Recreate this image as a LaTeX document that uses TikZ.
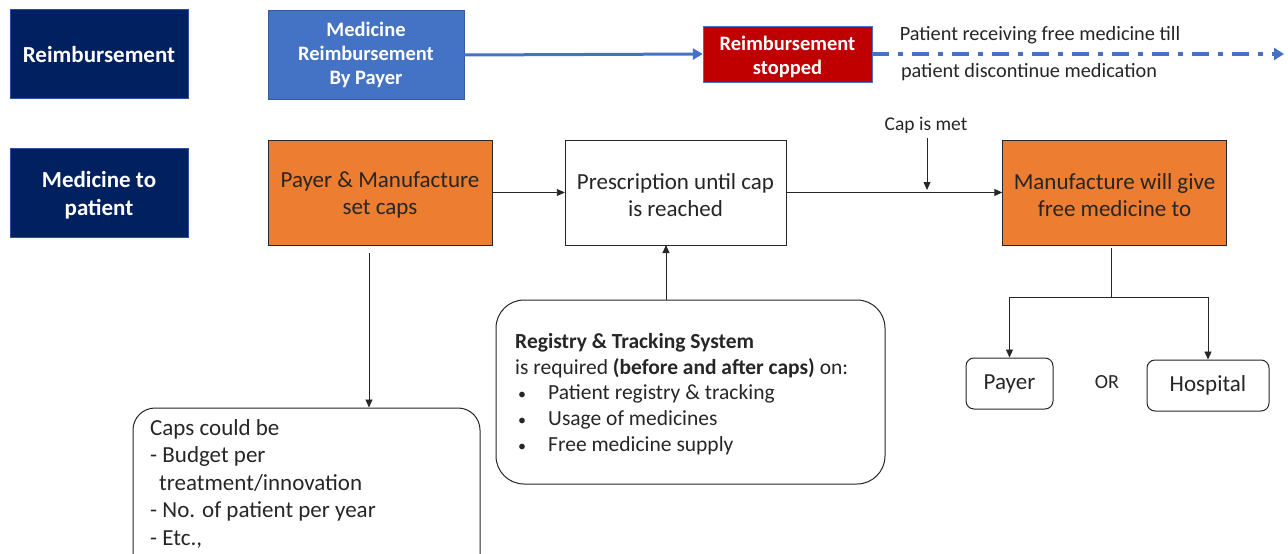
\documentclass[tikz,border=0pt]{standalone}
\usepackage{fontspec}
\setmainfont{Carlito}
\usetikzlibrary{arrows.meta}
\definecolor{navyc}{HTML}{002060}
\definecolor{bluec}{HTML}{4472C4}
\definecolor{redc}{HTML}{C00000}
\definecolor{orangec}{HTML}{ED7D31}
\definecolor{linec}{HTML}{262626}
\definecolor{textc}{HTML}{262626}
\newcommand{\smallbullet}{\makebox[33pt][l]{\hspace*{3pt}{\fontsize{16}{16}\selectfont •}}}
\begin{document}
\begin{tikzpicture}[x=1pt,y=-1pt,
  rect/.style={rectangle, inner sep=0pt, align=center},
  navybox/.style={rect, fill=navyc, draw=bluec!60!navyc, minimum width=178pt, minimum height=89pt},
  navytext/.style={rect, text=white, font=\bfseries\fontsize{23}{28}\selectfont},
  bluebox/.style={rect, fill=bluec, draw=bluec!80!black, text=white,
    font=\bfseries\fontsize{20.5}{24}\selectfont, minimum width=196pt, minimum height=89pt},
  redbox/.style={rect, fill=redc, draw=bluec, minimum width=169pt, minimum height=56pt},
  redtext/.style={rect, text=white, font=\bfseries\fontsize{20.5}{24}\selectfont},
  orangebox/.style={rect, fill=orangec, draw=linec, minimum width=224pt, minimum height=105pt},
  whitebox/.style={rect, fill=white, draw=linec, minimum width=221pt, minimum height=105pt},
  boxtext/.style={rect, text=textc, font=\fontsize{23}{27}\selectfont},
  roundbox/.style={rect, draw=linec, line width=1pt, rounded corners=#1},
  plain/.style={inner sep=0pt, text=textc},
  conn/.style={draw=linec, line width=0.9pt, -{Triangle[length=8pt,width=7pt]}},
  bluearrow/.style={draw=bluec, line width=3pt, -{Triangle[length=10pt,width=11pt]}},
]
\useasboundingbox (0,0) rectangle (1288,554);
\clip (0,0) rectangle (1288,554);

% top row: reimbursement
\node[navybox] (reimb) at (99,53.5) {};
\node[navytext] (reimbT) at (99,55) {Reimbursement};
\node[bluebox] (medreimb) at (366,55) {Medicine\\Reimbursement\\By Payer};
\node[redbox] (stopped) at (787.5,54) {};
\node[redtext] (stoppedT) at (787.5,56.5) {Reimbursement\\stopped};
\coordinate (freeend) at (1284,54);
\node[plain, font=\fontsize{20.3}{24}\selectfont] (till) at (1040,35.5) {Patient receiving free medicine till};
\node[plain, font=\fontsize{20.3}{24}\selectfont] (disc) at (1029,72.5) {patient discontinue medication};

\draw[bluearrow] (medreimb.east) -- (stopped.west);
\draw[draw=bluec, line width=4pt, dash pattern=on 17pt off 9pt on 5pt off 9pt,
  -{Triangle[length=10pt,width=12pt]}] (stopped.east) -- (freeend);

% second row: medicine to patient
\node[navybox] (medpat) at (99,193) {};
\node[navytext] (medpatT) at (99,195.5) {Medicine to\\patient};
\node[orangebox] (setcaps) at (380,192.5) {};
\node[boxtext] (setcapsT) at (380,195) {Payer \& Manufacture\\set caps};
\node[whitebox] (presc) at (675.5,192.5) {};
\node[boxtext] (prescT) at (675.5,195) {Prescription until cap\\is reached};
\node[orangebox] (manuf) at (1114.5,192.5) {};
\node[boxtext] (manufT) at (1114.5,195) {Manufacture will give\\free medicine to};

\draw[conn] (setcaps.east) -- (presc.west);
\draw[conn] (presc.east) -- (manuf.west);

\node[plain, font=\fontsize{19.5}{22}\selectfont] (capmet) at (926,125.5) {Cap is met};
\coordinate (capmettop) at (927,138);
\draw[conn] (capmettop) -- (927,190);

% caps list
\node[roundbox=22pt, minimum width=347pt, minimum height=180pt] (capsbox) at (306.5,498) {};
\node[plain, align=left, anchor=north west, font=\fontsize{23}{27.5}\selectfont] (capstext) at (150,419)
  {Caps could be\\- Budget per\\\hspace*{9pt}treatment/innovation\\- No. of patient per year\\- Etc.,};
\coordinate (capsstart) at (369,253);
\draw[conn] (capsstart) -- (capsstart |- capsbox.north);

% registry
\node[roundbox=28pt, minimum width=389pt, minimum height=184pt] (regbox) at (690.5,392) {};
\node[plain, align=left, anchor=north west, font=\fontsize{21.5}{25.8}\selectfont] (regtext) at (515,333)
  {\textbf{Registry \& Tracking System}\\
   is required \textbf{(before and after caps)} on:\\
   \smallbullet Patient registry \& tracking\\
   \smallbullet Usage of medicines\\
   \smallbullet Free medicine supply};
\draw[conn] (666,300) -- (666,245);

% recipients
\node[roundbox=8pt, minimum width=87pt, minimum height=51pt, font=\fontsize{23}{27}\selectfont, text=textc] (payer) at (1009.5,383.5) {Payer};
\node[roundbox=8pt, minimum width=122pt, minimum height=51pt, font=\fontsize{23}{27}\selectfont, text=textc] (hosp) at (1208,385.5) {Hospital};
\node[plain, font=\fontsize{20}{24}\selectfont] (or) at (1107,382) {OR};
\coordinate (split) at (1111,297);
\draw[draw=linec, line width=0.9pt] (1111,248) -- (split);
\draw[conn] (split) -| (payer.north);
\draw[conn] (split) -| (hosp.north);
\end{tikzpicture}
\end{document}
